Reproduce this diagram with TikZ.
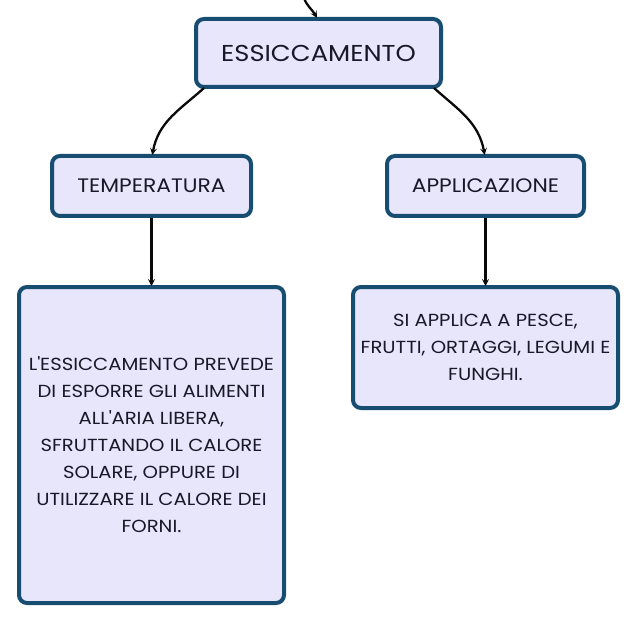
\documentclass[tikz,border=0pt]{standalone}
\usepackage{fontspec}
\setmainfont{Poppins}[FakeStretch=1.12]
\usetikzlibrary{positioning,calc,arrows.meta}
\definecolor{boxfill}{RGB}{232,230,250}
\definecolor{boxborder}{RGB}{22,77,112}
\definecolor{linkcol}{RGB}{10,10,10}
\definecolor{textcol}{RGB}{24,24,40}

\begin{document}
\begin{tikzpicture}[x=1pt,y=-1pt,
  concept/.style={draw=boxborder,fill=boxfill,line width=4pt,
    rounded corners=8pt,align=center,inner sep=0pt,text=textcol},
  link/.style={draw=linkcol,line width=2.3pt,-{Stealth[length=7pt,width=7pt,inset=3pt]},
    shorten >=-1pt}]
  \useasboundingbox (0,0) rectangle (638,623);
  % main topic
  \node[concept,minimum width=245pt,minimum height=68pt,font=\fontsize{23}{27}\selectfont]
    (ess) at (318.5,53) {ESSICCAMENTO};
  % second level
  \node[concept,minimum width=199pt,minimum height=60pt,font=\fontsize{19.5}{23}\selectfont]
    (temp) at (151.5,186) {TEMPERATURA};
  \node[concept,minimum width=197pt,minimum height=60pt,font=\fontsize{19.5}{23}\selectfont]
    (appl) at (485.5,186) {APPLICAZIONE};
  % details
  \node[concept,minimum width=265pt,minimum height=316pt,font=\fontsize{17.5}{27}\selectfont]
    (tempdesc) at (151.5,445) {L\textquotesingle ESSICCAMENTO PREVEDE\\DI ESPORRE GLI ALIMENTI\\
      ALL\textquotesingle ARIA LIBERA,\\SFRUTTANDO IL CALORE\\SOLARE, OPPURE DI\\
      UTILIZZARE IL CALORE DEI\\FORNI.};
  \node[concept,minimum width=265pt,minimum height=121pt,font=\fontsize{17.5}{27}\selectfont]
    (appldesc) at (485.5,347.5) {SI APPLICA A PESCE,\\FRUTTI, ORTAGGI, LEGUMI E\\FUNGHI.};
  \coordinate (incoming) at (304,-2);
  \draw[link] (incoming) to[out=-70,in=120] ([xshift=-2pt]ess.north);
  \draw[link] ([xshift=10pt,yshift=1pt]ess.south west) to[out=222,in=80] ([xshift=1pt]temp.north);
  \draw[link] ([xshift=-9pt,yshift=1pt]ess.south east) to[out=-42,in=100] ([xshift=-1pt]appl.north);
  \draw[link] (temp) -- (tempdesc);
  \draw[link] (appl) -- (appldesc);
\end{tikzpicture}
\end{document}
